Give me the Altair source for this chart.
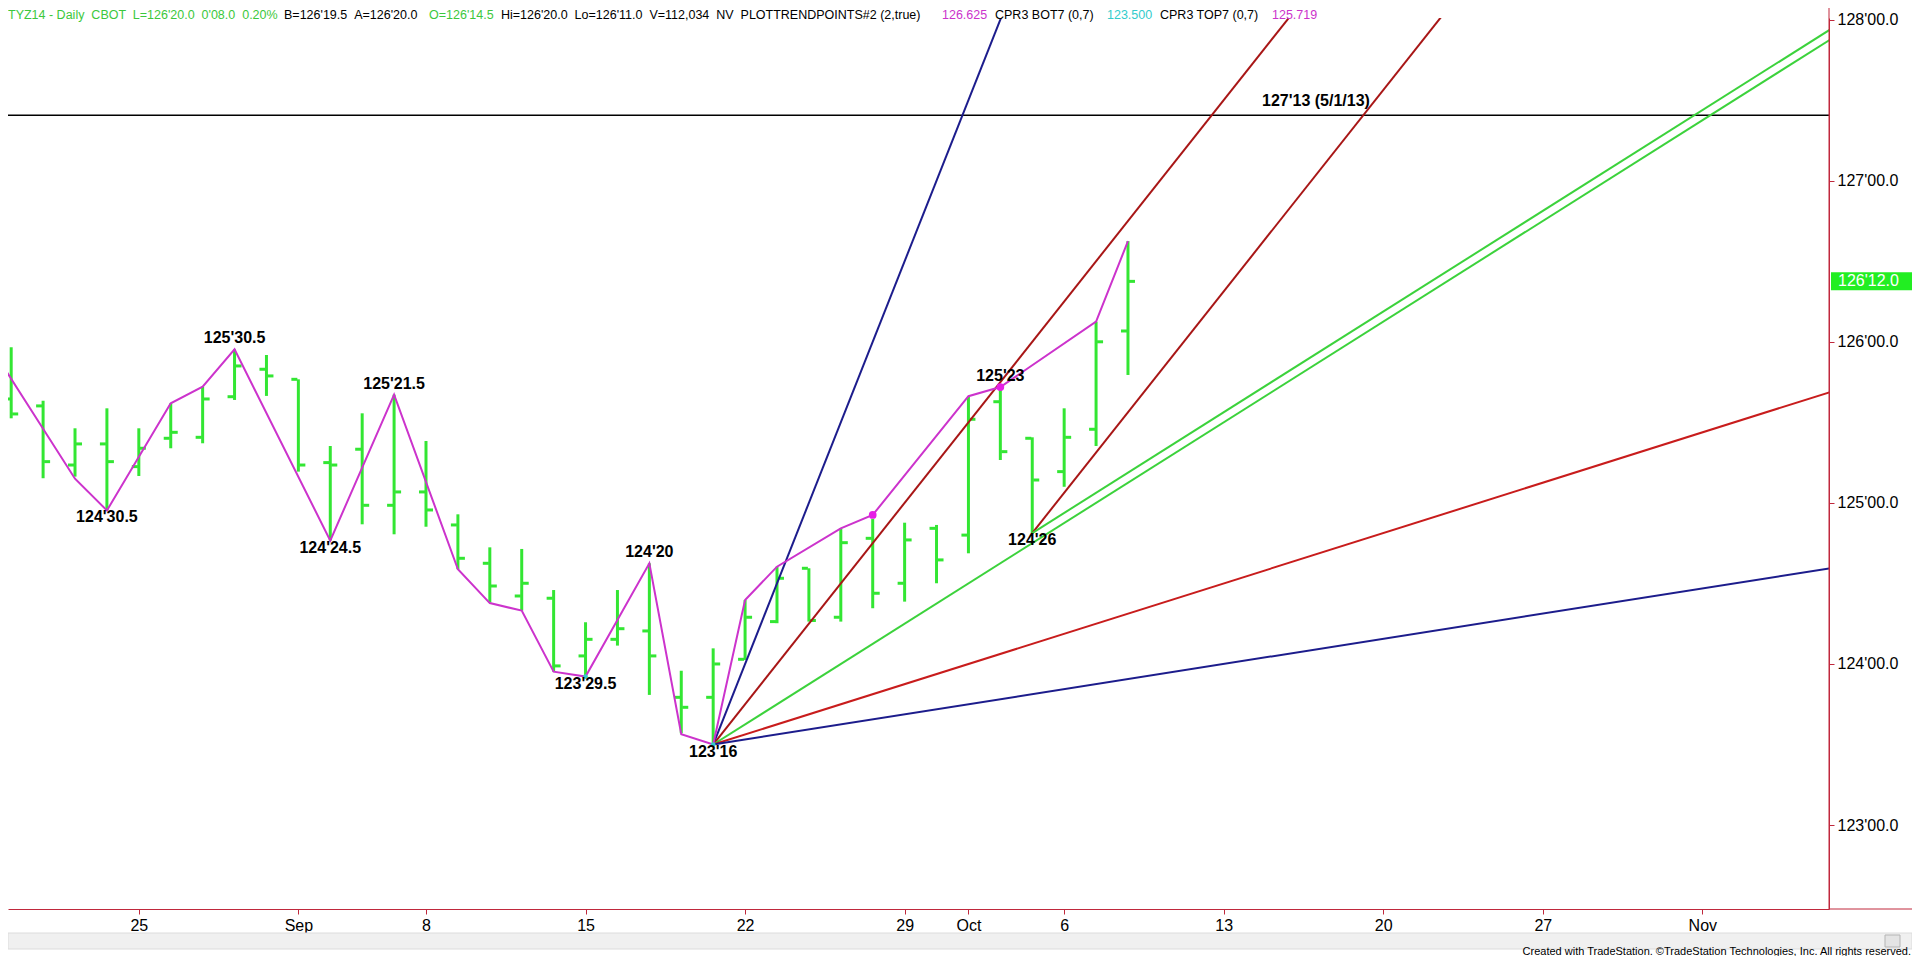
import altair as alt
import pandas as pd

# ---------------- data ----------------
bar_idx = list(range(36))
bar_open = [125.645, 125.602, 125.235, 125.366, 125.225, 125.401, 125.407, 125.659, 125.829, 125.767,
            125.250, 125.333, 124.985, 125.068, 124.863, 124.625, 124.422, 124.408, 124.050, 124.153,
            124.205, 123.793, 123.793, 124.029, 124.263, 124.594, 124.290, 124.780, 124.501, 124.842,
            124.800, 125.628, 125.401, 125.194, 125.457, 126.067]
bar_high = [125.966, 125.634, 125.463, 125.587, 125.463, 125.618, 125.721, 125.953, 125.918, 125.767,
            125.353, 125.556, 125.672, 125.384, 124.929, 124.724, 124.714, 124.459, 124.259, 124.459,
            124.625, 123.958, 124.097, 124.397, 124.604, 124.594, 124.842, 124.900, 124.877, 124.863,
            125.659, 125.719, 125.407, 125.587, 126.125, 126.625]
bar_low = [125.525, 125.153, 125.163, 124.953, 125.167, 125.339, 125.370, 125.639, 125.664, 125.194,
           124.766, 124.867, 124.805, 124.852, 124.588, 124.381, 124.331, 123.952, 123.922, 124.114,
           123.808, 123.570, 123.500, 124.025, 124.253, 124.263, 124.263, 124.346, 124.387, 124.501,
           124.687, 125.266, 124.8125, 125.100, 125.353, 125.794]
bar_close = [125.552, 125.256, 125.366, 125.256, 125.339, 125.438, 125.645, 125.850, 125.788, 125.235,
             125.235, 124.985, 125.068, 124.956, 124.656, 124.484, 124.501, 123.988, 124.153, 124.219,
             124.050, 123.731, 124.000, 124.290, 124.532, 124.270, 124.753, 124.439, 124.770, 124.646,
             125.519, 125.318, 125.142, 125.407, 126.000, 126.375]

# trading-day index of the date ticks
tick_idx = [4, 9, 13, 18, 23, 28, 30, 33, 38, 43, 48, 53]
tick_text = ["25", "Sep", "8", "15", "22", "29", "Oct", "6", "13", "20", "27", "Nov"]
price_ticks = [123, 124, 125, 126, 127, 128]

# swing (trend point) zigzag
zig_idx = [-1, 2, 3, 5, 6, 7, 10, 12, 14, 15, 16, 17, 18, 20, 21, 22, 23, 24, 26, 27, 30, 31, 34, 35]
zig_price = [126.08, 125.15, 124.953, 125.618, 125.721, 125.953, 124.766, 125.672, 124.588, 124.378,
             124.331, 123.952, 123.922, 124.625, 123.564, 123.5, 124.397, 124.604, 124.842, 124.925,
             125.662, 125.719, 126.125, 126.625]

# labelled swing highs / lows
high_lab_idx = [7, 12, 20, 31]
high_lab_price = [125.953, 125.672, 124.625, 125.719]
high_lab_text = ["125'30.5", "125'21.5", "124'20", "125'23"]
low_lab_idx = [3, 10, 18, 22, 32]
low_lab_price = [124.953, 124.766, 123.922, 123.5, 124.8125]
low_lab_text = ["124'30.5", "124'24.5", "123'29.5", "123'16", "124'26"]

# pivot dots
mag_dot_idx = [27, 31]
mag_dot_price = [124.925, 125.719]
cyan_dot_idx = [18, 22]
cyan_dot_price = [123.922, 123.5]

# Gann fan lines (anchor, slope in points per bar)
fan_name = ["a4x1", "a2x1", "a1x1", "a1x2", "a1x4", "b2x1", "b1x1"]
fan_anchor_idx = [22, 22, 22, 22, 22, 32, 32]
fan_anchor_price = [123.5, 123.5, 123.5, 123.5, 123.5, 124.8125, 124.8125]
fan_slope = [0.5, 0.25, 0.125, 0.0625, 0.03125, 0.25, 0.125]
fan_end_idx = 58

# horizontal resistance
res_price = [127.40625]
res_label_idx = [39.2]
res_label_text = ["127'13 (5/1/13)"]

last_price = [126.375]
last_price_text = ["126'12.0"]

NB = "\u00a0"
header_text = ["TYZ14 - Daily  CBOT  L=126'20.0  0'08.0  0.20%", "B=126'19.5  A=126'20.0", "O=126'14.5",
               "Hi=126'20.0  Lo=126'11.0  V=112,034  NV  PLOTTRENDPOINTS#2 (2,true)", "126.625",
               "CPR3 BOT7 (0,7)", "123.500", "CPR3 TOP7 (0,7)", "125.719"]
header_color = ["#3cc83c", "#000000", "#3cc83c", "#000000", "#cc33cc", "#000000", "#33cccc", "#000000", "#cc33cc"]
header_x = [0, 276, 421, 493, 934, 987, 1099, 1152, 1264]

# ---------------- styles ----------------
FONT = "Liberation Sans, Arial, sans-serif"
AX = "#c0283c"
GREEN_BAR = "#33e633"
MAG = "#cc33cc"
W, H = 1821, 891

xscale = alt.Scale(domain=[-0.1, 56.97], nice=False, zero=False)
yscale = alt.Scale(domain=[122.479, 128.0099], nice=False, zero=False)

x_label_expr = "[" + ",".join("'%s'" % t for t in tick_text) + "][indexof([" + \
    ",".join(str(v) for v in tick_idx) + "], datum.value)]"

xaxis = alt.Axis(values=tick_idx, labelExpr=x_label_expr, title=None, grid=False,
                 domainColor=AX, domainWidth=1, tickColor=AX, tickSize=5, tickWidth=1,
                 labelFont=FONT, labelFontSize=16, labelColor="black", labelPadding=3,
                 labelFlush=False, labelOverlap=False)
yaxis = alt.Axis(orient="right", values=price_ticks, labelExpr="datum.value + \"'00.0\"", title=None,
                 grid=False, domainColor=AX, domainWidth=1, tickColor=AX, tickSize=5, tickWidth=1,
                 labelFont=FONT, labelFontSize=16, labelColor="black", labelPadding=3,
                 labelFlush=False, labelOverlap=False)


def X(f):
    return alt.X(f, type="quantitative", scale=xscale, axis=xaxis)


def Y(f):
    return alt.Y(f, type="quantitative", scale=yscale, axis=yaxis)


df_bars = pd.DataFrame({"i": bar_idx, "o": bar_open, "h": bar_high, "l": bar_low, "c": bar_close})

fan_rows = []
for n, ai, ap, s in zip(fan_name, fan_anchor_idx, fan_anchor_price, fan_slope):
    fan_rows.append({"name": n, "i": ai, "p": ap})
    fan_rows.append({"name": n, "i": fan_end_idx, "p": ap + s * (fan_end_idx - ai)})
df_fan = pd.DataFrame(fan_rows)
fan_colors = ["#1c1c8c", "#a81616", "#3cd23c", "#c81c1c", "#1c1c8c", "#a81616", "#3cd23c"]

df_zig = pd.DataFrame({"i": zig_idx, "p": zig_price})
df_hi = pd.DataFrame({"i": high_lab_idx, "p": high_lab_price, "t": high_lab_text})
df_lo = pd.DataFrame({"i": low_lab_idx, "p": low_lab_price, "t": low_lab_text})
df_mag = pd.DataFrame({"i": mag_dot_idx, "p": mag_dot_price})
df_cyan = pd.DataFrame({"i": cyan_dot_idx, "p": cyan_dot_price})
df_res = pd.DataFrame({"p": res_price})
df_res_lab = pd.DataFrame({"i": res_label_idx, "p": res_price, "t": res_label_text})
df_last = pd.DataFrame({"p": last_price, "t": last_price_text})

layers = []

# price bars
layers.append(alt.Chart(df_bars).mark_rule(color=GREEN_BAR, strokeWidth=3).encode(
    x=X("i"), y=Y("l"), y2="h"))
layers.append(alt.Chart(df_bars).mark_tick(orient="horizontal", color=GREEN_BAR, thickness=3, size=6,
                                           xOffset=-4, opacity=1).encode(x=X("i"), y=Y("o")))
layers.append(alt.Chart(df_bars).mark_tick(orient="horizontal", color=GREEN_BAR, thickness=3, size=6,
                                           xOffset=4, opacity=1).encode(x=X("i"), y=Y("c")))

# resistance
layers.append(alt.Chart(df_res).mark_rule(color="black", strokeWidth=1.5).encode(y=Y("p")))
layers.append(alt.Chart(df_res_lab).mark_text(font=FONT, fontSize=16, fontWeight="bold", align="left",
                                              baseline="alphabetic", dy=-9, color="black").encode(
    x=X("i"), y=Y("p"), text="t:N"))

# fan lines
layers.append(alt.Chart(df_fan).mark_line(strokeWidth=2, clip=True).encode(
    x=X("i"), y=Y("p"),
    color=alt.Color("name:N", scale=alt.Scale(domain=fan_name, range=fan_colors), legend=None)))

# zigzag
layers.append(alt.Chart(df_zig).mark_line(color=MAG, strokeWidth=2, clip=True).encode(x=X("i"), y=Y("p")))
layers.append(alt.Chart(df_mag).mark_circle(color="#e61ee6", size=60, opacity=1).encode(x=X("i"), y=Y("p")))
layers.append(alt.Chart(df_cyan).mark_circle(color="#33cccc", size=22, opacity=1).encode(x=X("i"), y=Y("p")))

# swing labels
layers.append(alt.Chart(df_hi).mark_text(font=FONT, fontSize=16, fontWeight="bold", baseline="alphabetic",
                                         dy=-6, color="black").encode(x=X("i"), y=Y("p"), text="t:N"))
layers.append(alt.Chart(df_lo).mark_text(font=FONT, fontSize=16, fontWeight="bold", baseline="alphabetic",
                                         dy=12, color="black").encode(x=X("i"), y=Y("p"), text="t:N"))

# axis line extensions
layers.append(alt.Chart(pd.DataFrame({"a": [0]})).mark_rule(color=AX, strokeWidth=1).encode(
    x=alt.value(W), y=alt.value(-10), y2=alt.value(H)))
layers.append(alt.Chart(pd.DataFrame({"a": [0]})).mark_rule(color=AX, strokeWidth=1).encode(
    x=alt.value(W), x2=alt.value(1904), y=alt.value(H)))

# last price marker
layers.append(alt.Chart(df_last).mark_tick(orient="horizontal", color="#22ee22", thickness=18, size=82,
                                           opacity=1).encode(x=alt.value(1864), y=Y("p")))
layers.append(alt.Chart(df_last).mark_text(font=FONT, fontSize=16, color="white", align="left",
                                           baseline="middle").encode(x=alt.value(1830), y=Y("p"), text="t:N"))

# header
for t, c, xp in zip(header_text, header_color, header_x):
    layers.append(alt.Chart(pd.DataFrame({"t": [t.replace("  ", " " + NB)]})).mark_text(
        font=FONT, fontSize=12.5, color=c, align="left", baseline="alphabetic").encode(
        x=alt.value(xp), y=alt.value(1), text="t:N"))

# scroll bar and footer
layers.append(alt.Chart(pd.DataFrame({"a": [0]})).mark_rect(fill="#f0f0f0", stroke="#dcdcdc").encode(
    x=alt.value(0), x2=alt.value(1904), y=alt.value(915), y2=alt.value(931)))
layers.append(alt.Chart(pd.DataFrame({"a": [0]})).mark_rect(fill="#e4e4e4", stroke="#b4b4b4").encode(
    x=alt.value(1877), x2=alt.value(1892), y=alt.value(917), y2=alt.value(929)))
layers.append(alt.Chart(pd.DataFrame({"t": ["Created with TradeStation. \u00a9TradeStation Technologies, Inc. All rights reserved."]})).mark_text(
    font=FONT, fontSize=11, color="black",
    align="right", baseline="alphabetic").encode(x=alt.value(1903), y=alt.value(937), text="t:N"))

chart = alt.layer(*layers).properties(
    width=W, height=H,
    autosize=alt.AutoSizeParams(type="none"),
    padding={"left": 0, "top": 10, "right": 83, "bottom": 47},
    background="white",
).configure_view(stroke=None)

chart.save("out.html", embed_options={"renderer": "svg", "actions": False})
